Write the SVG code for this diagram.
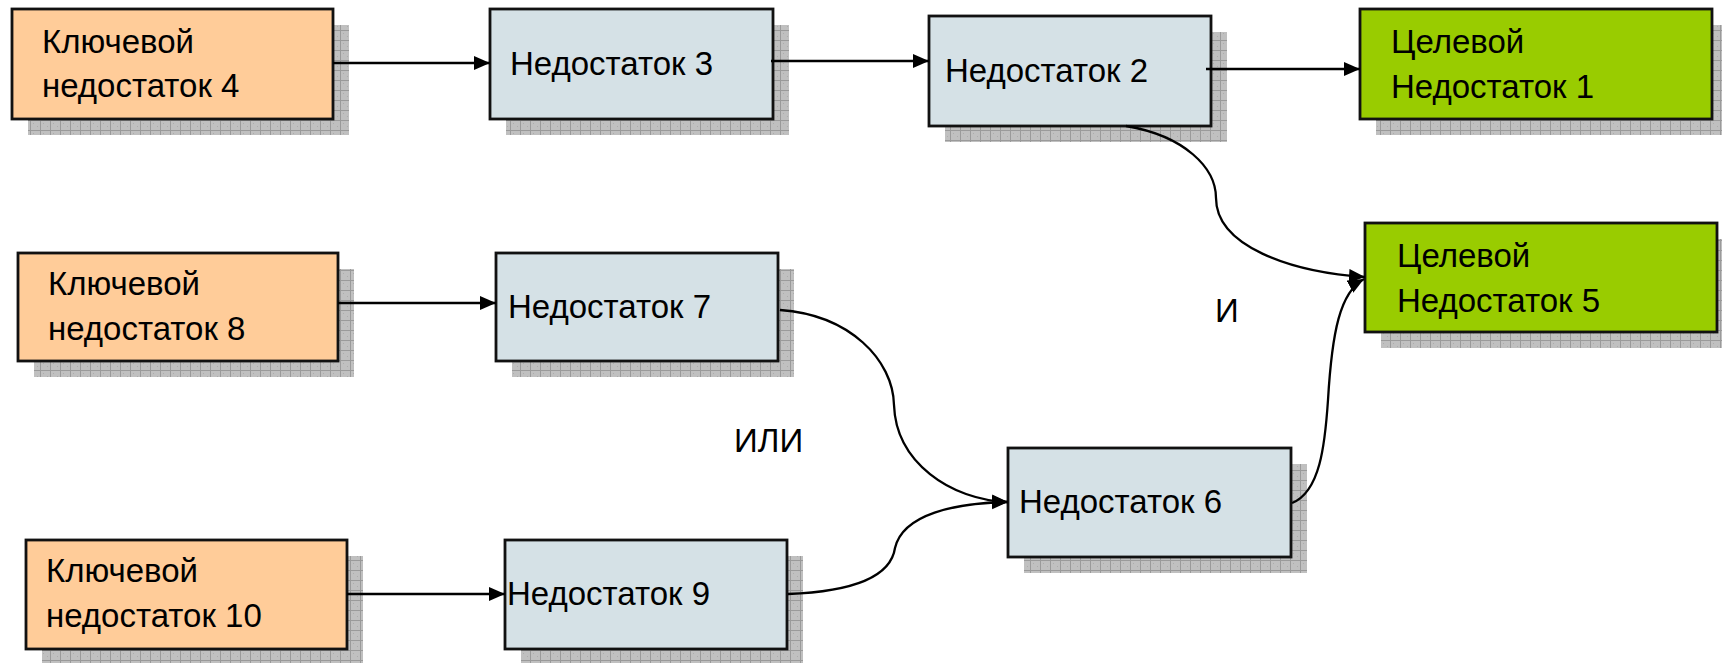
<svg xmlns="http://www.w3.org/2000/svg" width="1722" height="663" viewBox="0 0 1722 663">
  <style>
    .box { stroke: #111; stroke-width: 2.8; }
    .key { fill: #FFCC99; }
    .mid { fill: #D5E1E6; }
    .goal { fill: #99CC00; }
    .shadow { fill: url(#grid); }
    .lbl { font-family: "Liberation Sans", Arial, sans-serif; font-size: 33px; fill: #000; }
    .conn { fill: none; stroke: #000; stroke-width: 2.3; marker-end: url(#arrow); }
  </style>
  <defs>
    <pattern id="grid" width="10" height="10" patternUnits="userSpaceOnUse">
      <rect width="10" height="10" fill="#c0c0c0"/>
      <rect x="3" y="3" width="1" height="1" fill="#acacac"/>
      <rect x="7" y="6" width="1" height="1" fill="#acacac"/>
      <path d="M0,0.5H10M0.5,0V10" stroke="#9a9a9a" stroke-width="1"/>
    </pattern>
    <marker id="arrow" markerUnits="userSpaceOnUse" markerWidth="17" markerHeight="15" refX="16" refY="7" orient="auto">
      <path d="M0,0 L16,7 L0,14 z" fill="#000"/>
    </marker>
  </defs>

  <!-- key problems -->
  <g id="n4">
    <rect class="shadow" x="28" y="25" width="321" height="110"/>
    <rect class="box key" x="12" y="9" width="321" height="110"/>
    <text class="lbl" x="42" y="53">Ключевой</text>
    <text class="lbl" x="42" y="97">недостаток 4</text>
  </g>
  <g id="n8">
    <rect class="shadow" x="34" y="269" width="320" height="108"/>
    <rect class="box key" x="18" y="253" width="320" height="108"/>
    <text class="lbl" x="48" y="295">Ключевой</text>
    <text class="lbl" x="48" y="340">недостаток 8</text>
  </g>
  <g id="n10">
    <rect class="shadow" x="42" y="556" width="321" height="109"/>
    <rect class="box key" x="26" y="540" width="321" height="109"/>
    <text class="lbl" x="46" y="582">Ключевой</text>
    <text class="lbl" x="46" y="627">недостаток 10</text>
  </g>

  <!-- intermediate problems -->
  <g id="n3">
    <rect class="shadow" x="506" y="25" width="283" height="110"/>
    <rect class="box mid" x="490" y="9" width="283" height="110"/>
    <text class="lbl" x="510" y="75">Недостаток 3</text>
  </g>
  <g id="n2">
    <rect class="shadow" x="945" y="32" width="282" height="110"/>
    <rect class="box mid" x="929" y="16" width="282" height="110"/>
    <text class="lbl" x="945" y="82">Недостаток 2</text>
  </g>
  <g id="n7">
    <rect class="shadow" x="512" y="269" width="282" height="108"/>
    <rect class="box mid" x="496" y="253" width="282" height="108"/>
    <text class="lbl" x="508" y="318">Недостаток 7</text>
  </g>
  <g id="n9">
    <rect class="shadow" x="521" y="556" width="282" height="109"/>
    <rect class="box mid" x="505" y="540" width="282" height="109"/>
    <text class="lbl" x="507" y="605">Недостаток 9</text>
  </g>
  <g id="n6">
    <rect class="shadow" x="1024" y="464" width="283" height="109"/>
    <rect class="box mid" x="1008" y="448" width="283" height="109"/>
    <text class="lbl" x="1019" y="513">Недостаток 6</text>
  </g>

  <!-- goal problems -->
  <g id="n1">
    <rect class="shadow" x="1376" y="25" width="352" height="110"/>
    <rect class="box goal" x="1360" y="9" width="352" height="110"/>
    <text class="lbl" x="1391" y="53">Целевой</text>
    <text class="lbl" x="1391" y="98">Недостаток 1</text>
  </g>
  <g id="n5">
    <rect class="shadow" x="1381" y="239" width="352" height="109"/>
    <rect class="box goal" x="1365" y="223" width="352" height="109"/>
    <text class="lbl" x="1397" y="267">Целевой</text>
    <text class="lbl" x="1397" y="312">Недостаток 5</text>
  </g>

  <!-- connectors -->
  <g id="connectors">
    <path class="conn" d="M333,63 H490"/>
    <path class="conn" d="M771,61 H929"/>
    <path class="conn" d="M1206,69 H1360"/>
    <path class="conn" d="M338,303 H496"/>
    <path class="conn" d="M347,594 H505"/>
    <path class="conn" d="M1126,126 C1185,136 1216,168 1216,198 C1216,246 1290,272 1365,277"/>
    <path class="conn" d="M1292,503 C1320,492 1325,445 1328,400 C1332,332 1340,292 1364,279"/>
    <path class="conn" d="M780,310 C850,315 893,360 894,405 C896,462 950,500 1008,502"/>
    <path class="conn" d="M788,594 C840,592 890,582 895,548 C903,514 955,503 1008,502"/>
    <text class="lbl" x="1215" y="322">И</text>
    <text class="lbl" x="734" y="452">ИЛИ</text>
  </g>
</svg>
